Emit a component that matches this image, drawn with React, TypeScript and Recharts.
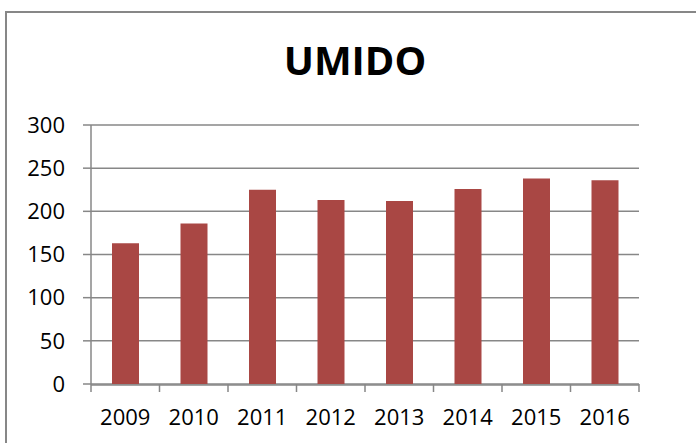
import { BarChart, Bar, XAxis, YAxis, CartesianGrid } from "recharts";

// ── Data ────────────────────────────────────────────────────────────────────

const YEARS = ["2009", "2010", "2011", "2012", "2013", "2014", "2015", "2016"];
const VALUES = [163, 186, 225, 213, 212, 226, 238, 236];
const Y_TICKS = [0, 50, 100, 150, 200, 250, 300];
const BOUNDARY_TICKS = [0, 1, 2, 3, 4, 5, 6, 7, 8];

const BAR_COLOR = "#A94744";
const LINE_COLOR = "#878787";
const FONT = '"Open Sans", "Liberation Sans", sans-serif';

const data = YEARS.map((year, i) => ({ year, value: VALUES[i], slot: i + 0.5 }));

export default function App() {
  return (
    <div
      style={{
        position: "fixed",
        left: 0,
        top: 0,
        width: 696,
        height: 443,
        overflow: "hidden",
        background: "#fff",
        fontFamily: FONT,
      }}
    >
      {/* chart frame, runs off the right and bottom edges */}
      <div
        style={{
          position: "absolute",
          left: 5,
          top: 11,
          width: 800,
          height: 600,
          border: `2px solid ${LINE_COLOR}`,
          boxSizing: "border-box",
        }}
      />
      <div
        style={{
          position: "absolute",
          left: 205,
          top: 32,
          width: 300,
          textAlign: "center",
          fontSize: 40,
          fontWeight: 700,
          lineHeight: "56px",
          color: "#000",
        }}
      >
        UMIDO
      </div>
      <div style={{ position: "absolute", left: 0, top: 0 }}>
        <BarChart
          width={696}
          height={443}
          data={data}
          margin={{ top: 125, right: 57, bottom: 18, left: 11 }}
          barSize={27}
        >
          <CartesianGrid xAxisId="years" vertical={false} stroke={LINE_COLOR} strokeWidth={1.5} />
          {/* tick marks sit on category boundaries, Excel style */}
          <XAxis
            xAxisId="bounds"
            dataKey="slot"
            type="number"
            domain={[0, 8]}
            ticks={BOUNDARY_TICKS}
            axisLine={false}
            tickLine={{ stroke: LINE_COLOR, strokeWidth: 1.5 }}
            tickSize={8}
            tickFormatter={() => ""}
            height={1}
          />
          <XAxis
            xAxisId="years"
            dataKey="year"
            height={40}
            axisLine={{ stroke: LINE_COLOR, strokeWidth: 1.5 }}
            tickLine={false}
            tickSize={8}
            tickMargin={16}
            tick={{ fill: "#000", fontSize: 22, fontFamily: FONT }}
            interval={0}
          />
          <YAxis
            domain={[0, 300]}
            ticks={Y_TICKS}
            width={80}
            axisLine={{ stroke: LINE_COLOR, strokeWidth: 1.5 }}
            tickLine={{ stroke: LINE_COLOR, strokeWidth: 1.5 }}
            tickSize={8}
            tickMargin={18}
            tick={{ fill: "#000", fontSize: 22, fontFamily: FONT }}
          />
          <Bar xAxisId="years" dataKey="value" fill={BAR_COLOR} isAnimationActive={false} />
        </BarChart>
      </div>
    </div>
  );
}
